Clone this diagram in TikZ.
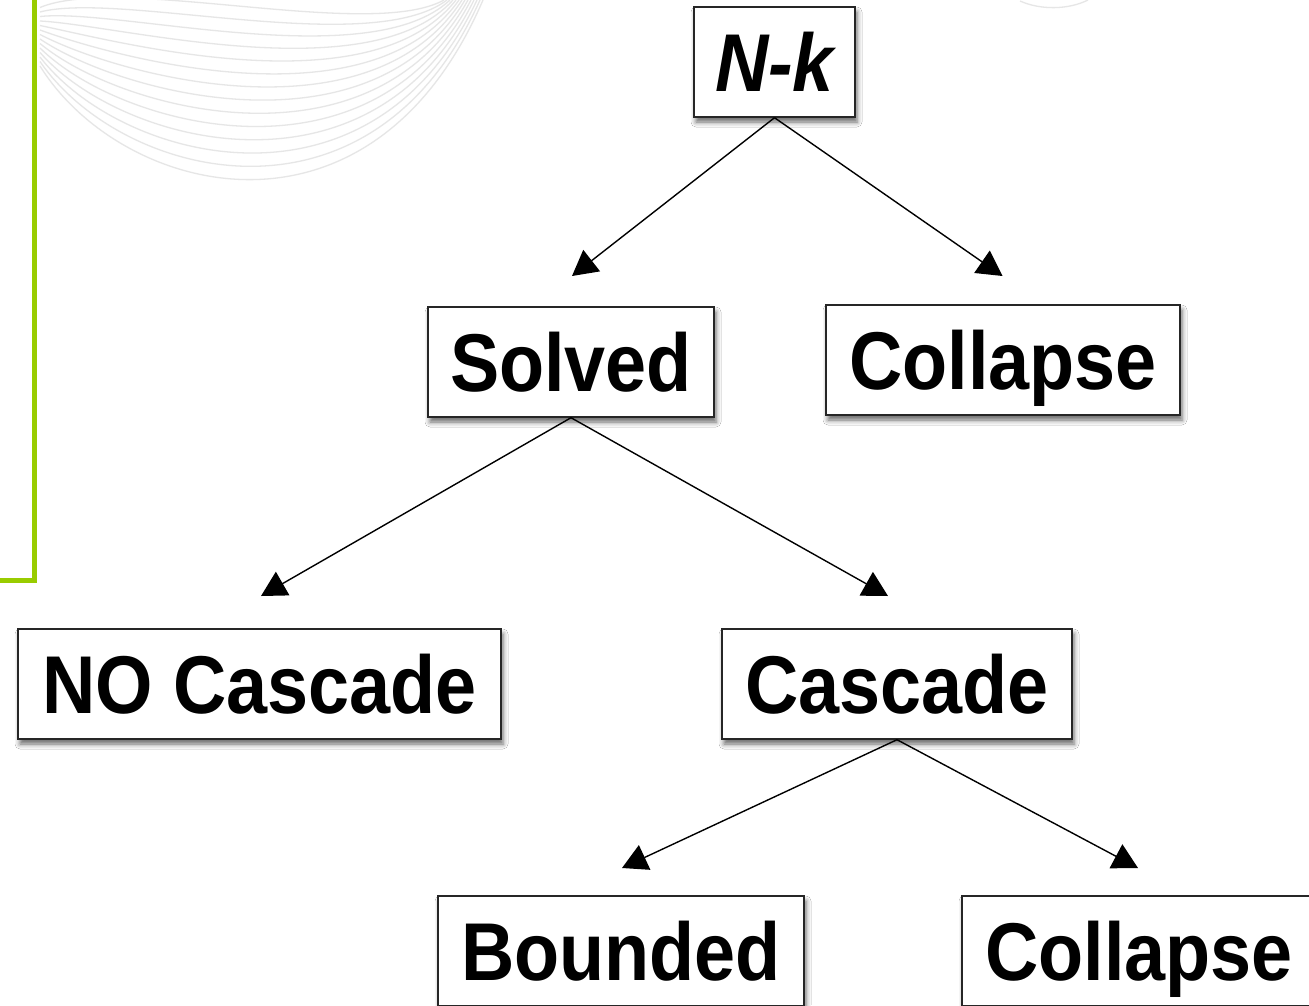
\documentclass[tikz,border=0pt]{standalone}
\usepackage{fontspec}
\newfontfamily\boxfont[FakeStretch=0.9]{Liberation Sans}
\usetikzlibrary{arrows.meta,shadows.blur}
\definecolor{accentgreen}{RGB}{153,204,0}
\definecolor{swirlgray}{RGB}{230,230,230}
\tikzset{
  box/.style={draw=black!85, line width=1.4pt, fill=white, inner sep=0pt,
    minimum height=110pt, text height=59pt, text depth=0pt,
    font=\boxfont\bfseries\fontsize{82}{90}\selectfont,
    blur shadow={shadow xshift=2pt, shadow yshift=-5pt,
      shadow blur radius=5pt, shadow opacity=60}},
  link/.style={line width=1.4pt, -{Triangle[length=25pt,width=27pt]}},
  swirl/.style={draw=swirlgray, line width=1.3pt},
}
\begin{document}
\begin{tikzpicture}[x=1pt, y=-1pt]
  \useasboundingbox (0,0) rectangle (1309,1005);
  \clip (0,0) rectangle (1309,1005);
  \fill[white] (0,0) rectangle (1309,1005);

  % faint background swirl
  \foreach \k in {0,...,13} {
    \draw[swirl] ({40},{66-4.5*\k})
      .. controls ({120},{195-17*\k}) and ({370},{262-17*\k})
      .. ({483-3*\k},{0});
  }
  \draw[swirl] (1020,1) .. controls (1040,10) and (1068,10) .. (1088,0);

  % green frame edge
  \draw[accentgreen, line width=5pt] (34,-5) -- (34,580) -- (-5,580);

  % boxes
  \node[box, minimum width=161pt] (nk) at (774.5,62) {\itshape N-k};
  \node[box, minimum width=286pt] (solved) at (571,362) {Solved};
  \node[box, minimum width=354pt] (collapseA) at (1003,360) {Collapse};
  \node[box, minimum width=483pt] (nocascade) at (259.5,684) {NO Cascade};
  \node[box, minimum width=350pt] (cascade) at (897,684) {Cascade};
  \node[box, minimum width=366pt] (bounded) at (621,951) {Bounded};
  \node[box, minimum width=354pt] (collapseB) at (1139,951) {Collapse};

  % arrow tips stop short of the boxes below
  \coordinate (tSolved) at (572,276);
  \coordinate (tCollapseA) at (1002.5,276);
  \coordinate (tNoCascade) at (261,596);
  \coordinate (tCascade) at (888,596);
  \coordinate (tBounded) at (622,868);
  \coordinate (tCollapseB) at (1138,868);

  \draw[link] (nk.south) -- (tSolved);
  \draw[link] (nk.south) -- (tCollapseA);
  \draw[link] (solved.south) -- (tNoCascade);
  \draw[link] (solved.south) -- (tCascade);
  \draw[link] (cascade.south) -- (tBounded);
  \draw[link] (cascade.south) -- (tCollapseB);
\end{tikzpicture}
\end{document}
